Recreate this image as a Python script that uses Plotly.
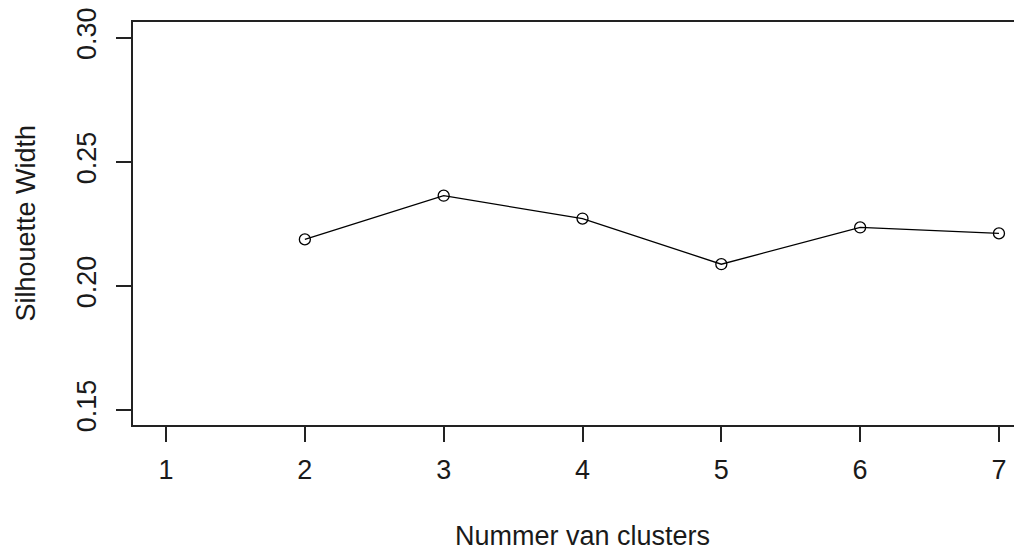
import plotly.graph_objects as go

clusters = [2, 3, 4, 5, 6, 7]
sil_width = [0.2188, 0.2364, 0.2272, 0.2088, 0.2236, 0.2212]
x_ticks = [1, 2, 3, 4, 5, 6, 7]
y_ticks = [0.15, 0.20, 0.25, 0.30]
y_tick_text = ["0.15", "0.20", "0.25", "0.30"]

OFF = 8  # page offset of the plot inside the browser window
W, H = 1022 - OFF, 551 - OFF
L, R, T, B = 133 - OFF, 0, 19 - OFF, 126
FONT = "Liberation Sans, Arial, sans-serif"
FS = 27
PW, PH = W - L - R, H - T - B

fig = go.Figure()
fig.add_trace(go.Scatter(
    x=clusters, y=sil_width, mode="lines+markers",
    line=dict(color="black", width=1.3),
    marker=dict(symbol="circle-open", size=11, color="black", line=dict(width=1.3)),
    showlegend=False, cliponaxis=False,
))

fig.update_layout(
    width=W, height=H,
    margin=dict(l=L, r=R, t=T, b=B),
    paper_bgcolor="white", plot_bgcolor="white",
    font=dict(family=FONT, size=FS, color="#1a1a1a"),
    xaxis=dict(
        range=[0.762, 7.166], tickvals=x_ticks, ticktext=[str(v) for v in x_ticks],
        ticks="outside", ticklen=15, tickwidth=1.5, tickcolor="#222",
        showline=True, linecolor="#222", linewidth=1.8, mirror=True,
        showgrid=False, zeroline=False, ticklabelstandoff=5,
        ticklabeloverflow="allow",
        tickfont=dict(size=FS, family=FONT, color="#1a1a1a"),
    ),
    yaxis=dict(
        range=[0.1440, 0.3064], tickvals=y_ticks, ticktext=y_tick_text,
        ticks="outside", ticklen=15, tickwidth=1.5, tickcolor="#222",
        showline=True, linecolor="#222", linewidth=1.8, mirror=False,
        showgrid=False, zeroline=False, tickangle=-90, ticklabelstandoff=9,
        ticklabeloverflow="allow",
        tickfont=dict(size=FS, family=FONT, color="#1a1a1a"),
    ),
    annotations=[
        dict(text="Nummer van clusters", xref="paper", yref="paper",
             x=(582 - 133) / PW, y=(425 - 537) / PH,
             xanchor="center", yanchor="middle", showarrow=False,
             font=dict(size=FS, family=FONT, color="#1a1a1a")),
        dict(text="Silhouette Width", xref="paper", yref="paper",
             x=(25 - 133) / PW, y=(425 - 222) / PH,
             xanchor="center", yanchor="middle", showarrow=False, textangle=-90,
             font=dict(size=FS, family=FONT, color="#1a1a1a")),
    ],
)

fig.write_html("out.html")
